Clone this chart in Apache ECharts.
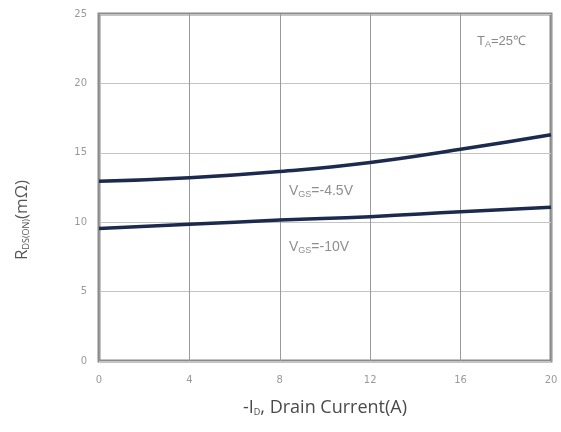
<!DOCTYPE html>
<html>
<head>
<meta charset="utf-8">
<script src="https://cdn.jsdelivr.net/npm/echarts@6/dist/echarts.min.js"></script>
<style>
  html, body { margin: 0; padding: 0; background: #fff; }
  #chart { width: 561px; height: 432px; }
</style>
</head>
<body>
<div id="chart"></div>
<script>
// drain current (A)
const current = [0, 4, 8, 12, 16, 20]
// RDS(ON) in mΩ
const rdsVgs45 = [12.95, 13.2, 13.65, 14.3, 15.25, 16.3]
const rdsVgs10 = [9.55, 9.85, 10.15, 10.4, 10.75, 11.07]

const toPairs = (xs, ys) => xs.map((x, i) => [x, ys[i]])

const chart = echarts.init(document.getElementById('chart'))

chart.setOption({
  animation: false,
  grid: {
    left: 99, top: 14, right: 10, bottom: 71,
    show: true,
    borderColor: '#8a8a8a',
    borderWidth: 3
  },
  xAxis: {
    type: 'value',
    min: 0, max: 20, interval: 4,
    name: '-I{s|D}, Drain Current(A)',
    nameLocation: 'middle',
    nameGap: 38,
    nameTextStyle: {
      fontSize: 18, color: '#4a4a4a', fontFamily: 'Open Sans',
      rich: { s: { fontSize: 9, color: '#4a4a4a', padding: [8, 0, 0, 0], fontFamily: 'Open Sans' } }
    },
    axisLine: { show: false },
    axisTick: { show: false },
    axisLabel: { fontSize: 10, color: '#9a9a9a', margin: 14, fontFamily: 'DejaVu Sans' },
    splitLine: { lineStyle: { color: '#9a9a9a', width: 1 } }
  },
  yAxis: {
    type: 'value',
    min: 0, max: 25, interval: 5,
    axisLine: { show: false },
    axisTick: { show: false },
    axisLabel: { fontSize: 10, color: '#9a9a9a', margin: 12, fontFamily: 'DejaVu Sans' },
    splitLine: { lineStyle: { color: '#c4c4c4', width: 1 } }
  },
  graphic: [
    {
      type: 'text', x: 22, y: 220, rotation: Math.PI / 2,
      style: {
        text: 'R{s|DS(ON)}(mΩ)',
        fontSize: 17, fill: '#555', fontFamily: 'Open Sans',
        align: 'center', verticalAlign: 'middle',
        rich: { s: { fontSize: 9, fill: '#555', padding: [8, 0, 0, 0], fontFamily: 'Open Sans' } }
      }
    },
    {
      type: 'text', x: 477, y: 34,
      style: {
        text: 'T{s|A}=25℃', fontSize: 13, fill: '#8a8a8a', fontFamily: 'Liberation Sans',
        rich: { s: { fontSize: 9, fill: '#8a8a8a', padding: [6, 0, 0, 0] } }
      }
    },
    {
      type: 'text', x: 289, y: 184,
      style: {
        text: 'V{s|GS}=-4.5V', fontSize: 14, fill: '#8f8f8f', fontFamily: 'Liberation Sans',
        rich: { s: { fontSize: 9, fill: '#8f8f8f', padding: [6, 0, 0, 0] } }
      }
    },
    {
      type: 'text', x: 289, y: 240,
      style: {
        text: 'V{s|GS}=-10V', fontSize: 14, fill: '#8f8f8f', fontFamily: 'Liberation Sans',
        rich: { s: { fontSize: 9, fill: '#8f8f8f', padding: [6, 0, 0, 0] } }
      }
    }
  ],
  series: [
    {
      name: 'VGS=-4.5V',
      type: 'line',
      smooth: true,
      symbol: 'none',
      data: toPairs(current, rdsVgs45),
      lineStyle: { color: '#1c2a4e', width: 3.5 }
    },
    {
      name: 'VGS=-10V',
      type: 'line',
      smooth: true,
      symbol: 'none',
      data: toPairs(current, rdsVgs10),
      lineStyle: { color: '#1c2a4e', width: 3.5 }
    }
  ]
})
</script>
</body>
</html>
